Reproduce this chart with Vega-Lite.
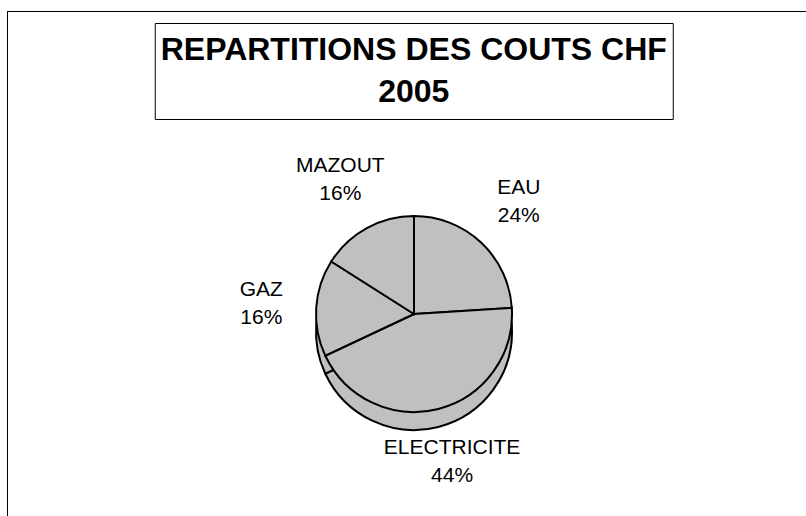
{
  "$schema": "https://vega.github.io/schema/vega-lite/v6.json",
  "background": "white",
  "padding": {"left": 7, "top": 11, "right": 0, "bottom": 0},
  "config": {
    "view": {"stroke": null},
    "font": "Liberation Sans"
  },
  "datasets": {
    "couts": [
      {"poste": "EAU", "part": 24},
      {"poste": "ELECTRICITE", "part": 44},
      {"poste": "GAZ", "part": 16},
      {"poste": "MAZOUT", "part": 16}
    ],
    "titre": [
      {"texte": "REPARTITIONS DES COUTS CHF\n2005"}
    ],
    "vide": []
  },
  "spacing": 0,
  "hconcat": [
    {
      "width": 1,
      "height": 600,
      "view": {"fill": "black", "stroke": null},
      "data": {"name": "vide"},
      "mark": "point"
    },
    {
      "spacing": 10,
      "center": true,
      "vconcat": [
        {
          "width": 812,
          "height": 1,
          "view": {"fill": "black", "stroke": null},
          "data": {"name": "vide"},
          "mark": "point"
        },
        {
          "width": 518,
          "height": 96,
          "view": {"stroke": "black", "strokeWidth": 1},
          "data": {"name": "titre"},
          "mark": {"type": "text", "fontSize": 32, "fontWeight": "bold", "lineBreak": "\n", "lineHeight": 42, "dy": -21, "color": "black", "align": "center", "baseline": "middle"},
          "encoding": {
            "text": {"field": "texte", "type": "nominal"}
          }
        },
        {
          "width": 812,
          "height": 368,
          "data": {"name": "couts"},
          "transform": [
            {"calculate": "datum.poste + '\\n' + datum.part + '%'", "as": "etiquette"}
          ],
          "encoding": {
            "theta": {"field": "part", "type": "quantitative", "stack": true}
          },
          "layer": [
            {
              "mark": {"type": "arc", "outerRadius": 98, "fill": "#c0c0c0", "stroke": "black", "strokeWidth": 2, "yOffset": 18}
            },
            {
              "mark": {"type": "arc", "outerRadius": 98, "fill": "#c0c0c0", "stroke": "black", "strokeWidth": 2}
            },
            {
              "mark": {"type": "text", "radius": 153, "fontSize": 21, "lineBreak": "\n", "lineHeight": 28, "dy": -14, "color": "black", "align": "center", "baseline": "middle"},
              "encoding": {
                "text": {"field": "etiquette", "type": "nominal"}
              }
            }
          ]
        }
      ]
    }
  ]
}
